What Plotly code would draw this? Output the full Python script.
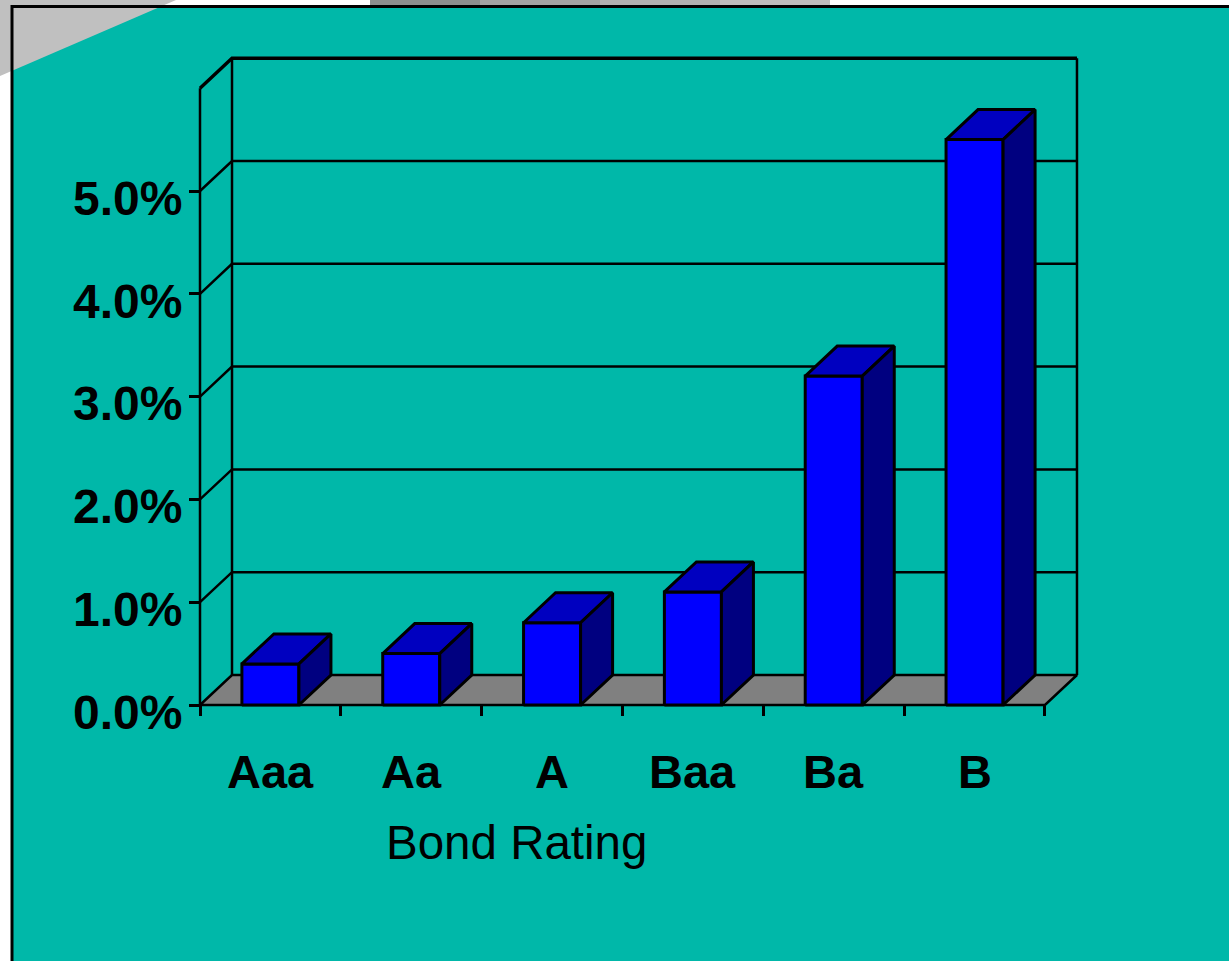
import plotly.graph_objects as go

# ---- data ----
categories = ["Aaa", "Aa", "A", "Baa", "Ba", "B"]
default_rates = [0.40, 0.50, 0.80, 1.10, 3.20, 5.50]   # percent
tick_values = [0, 1, 2, 3, 4, 5]
tick_labels = ["0.0%", "1.0%", "2.0%", "3.0%", "4.0%", "5.0%"]
axis_title = "Bond Rating"

# ---- geometry / style ----
W, H = 1229, 961
X0_PX, Y0_PX = 200, 705          # front-bottom-left corner of the 3D box
SX, SY = 140.83, 102.8           # px per category, px per 1 %
DX, DY = 32 / SX, 30 / SY        # depth offset in data units
YMAX = 6
HALF = 0.2025                    # half bar width (category units)
L, R, T, B = 150, 100, 30, 200
plot_w, plot_h = W - L - R, H - T - B
xr = [(L - X0_PX) / SX, (W - R - X0_PX) / SX]
yr = [(Y0_PX - (H - B)) / SY, (Y0_PX - T) / SY]

TEAL = "#00B8A9"
FRONT, TOP, SIDE = "#0000FF", "#0000C0", "#000080"
FLOOR = "#808080"
FONT = "Liberation Sans, Arial, sans-serif"

fig = go.Figure()


def line(xs, ys, lw=2.5):
    fig.add_trace(go.Scatter(x=xs, y=ys, mode="lines",
                             line=dict(color="black", width=lw),
                             hoverinfo="skip", showlegend=False))


def poly(xs, ys, fill, lw=2.5):
    fig.add_trace(go.Scatter(x=xs + [xs[0]], y=ys + [ys[0]], mode="lines",
                             fill="toself", fillcolor=fill,
                             line=dict(color="black", width=lw),
                             hoverinfo="skip", showlegend=False))


def fx(px):
    return (px - L) / plot_w


def fy(py):
    return (H - B - py) / plot_h


n = len(categories)

# walls and gridlines
for k in range(1, YMAX + 1):
    line([0, DX, n + DX], [k, k + DY, k + DY], 3.4 if k == YMAX else 2.5)
line([DX, DX], [DY, YMAX + DY])
line([n + DX, n + DX], [DY, YMAX + DY])
line([0, 0], [0, YMAX])

# floor
poly([0, n, n + DX, DX], [0, 0, DY, DY], FLOOR)

# bars
for i, v in enumerate(default_rates):
    c = i + 0.5
    a, b = c - HALF, c + HALF
    poly([a, b, b, a], [0, 0, v, v], FRONT, 3)
    poly([a, b, b + DX, a + DX], [v, v, v + DY, v + DY], TOP, 3)
    poly([b, b + DX, b + DX, b], [0, DY, v + DY, v], SIDE, 3)

# category labels (placed under each category centre)
annotations = []
for i, name in enumerate(categories):
    annotations.append(dict(x=fx(X0_PX + (i + 0.5) * SX), y=fy(771), xref="paper", yref="paper",
                            text=name, showarrow=False, xanchor="center", yanchor="middle",
                            font=dict(family=FONT, size=47, color="black", weight="bold")))
annotations.append(dict(x=fx(516), y=fy(842), xref="paper", yref="paper",
                        text=axis_title, showarrow=False, xanchor="center", yanchor="middle",
                        font=dict(family=FONT, size=47.5, color="black")))

shapes = [
    dict(type="rect", xref="paper", yref="paper", x0=fx(0), x1=fx(W), y0=fy(0), y1=fy(7),
         fillcolor="white", line=dict(width=0), layer="below"),
    dict(type="rect", xref="paper", yref="paper", x0=fx(0), x1=fx(11), y0=fy(0), y1=fy(H),
         fillcolor="white", line=dict(width=0), layer="below"),
    dict(type="path", xref="paper", yref="paper",
         path=f"M {fx(0)},{fy(0)} L {fx(176)},{fy(0)} L {fx(0)},{fy(76)} Z",
         fillcolor="#C0C0C0", line=dict(width=0), layer="below"),
]
for x0, x1, col in [(370, 480, "#8E8E8E"), (480, 600, "#A2A2A2"),
                    (600, 720, "#B0B0B0"), (720, 830, "#BDBDBD")]:
    shapes.append(dict(type="rect", xref="paper", yref="paper", x0=fx(x0), x1=fx(x1),
                       y0=fy(0), y1=fy(6), fillcolor=col, line=dict(width=0), layer="below"))
shapes.append(dict(type="path", xref="paper", yref="paper",
                   path=f"M {fx(12)},{fy(H + 5)} L {fx(12)},{fy(6.5)} L {fx(W + 5)},{fy(6.5)}",
                   line=dict(color="black", width=3), layer="above"))

fig.update_layout(
    width=W, height=H,
    margin=dict(l=L, r=R, t=T, b=B, pad=0),
    paper_bgcolor=TEAL, plot_bgcolor="rgba(0,0,0,0)",
    showlegend=False,
    annotations=annotations,
    shapes=shapes,
    xaxis=dict(range=xr, anchor="free", position=fy(Y0_PX), tickmode="array",
               tickvals=list(range(n + 1)), ticks="outside", ticklen=10, tickwidth=2.5,
               tickcolor="black", showticklabels=False, showgrid=False, zeroline=False,
               showline=False, fixedrange=True),
    yaxis=dict(range=yr, anchor="free", position=fx(X0_PX), tickmode="array",
               tickvals=tick_values, ticktext=tick_labels, ticks="outside", ticklen=11,
               tickwidth=2.5, tickcolor="black", showgrid=False, zeroline=False,
               showline=False, fixedrange=True, ticklabelshift=7, ticklabelstandoff=-3,
               tickfont=dict(family=FONT, size=48, color="black", weight="bold")),
    hovermode=False,
)

fig.write_html("out.html", config={"displayModeBar": False},
               post_script="document.body.style.margin='0px';document.body.style.overflow='hidden';")
